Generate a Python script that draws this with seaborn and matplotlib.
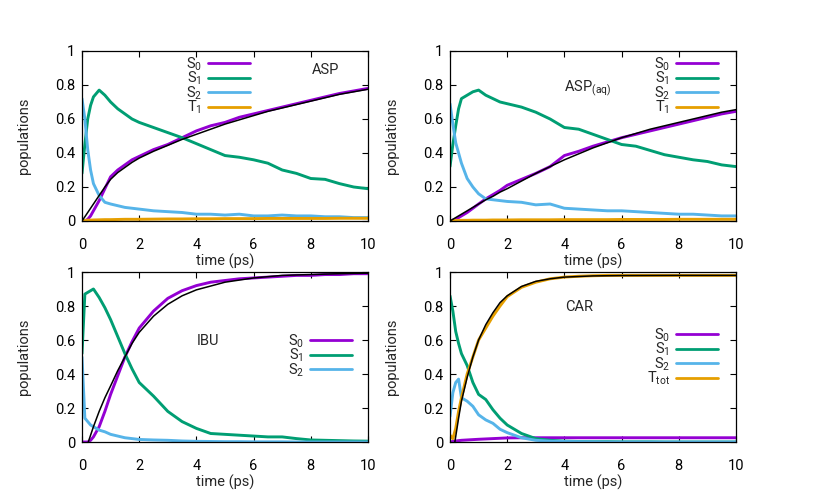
import numpy as np
import pandas as pd
import seaborn as sns
from matplotlib import pyplot as plt
from matplotlib.lines import Line2D

# time grid (ps) shared by the population curves
t = [0, 0.1, 0.2, 0.3, 0.4, 0.6, 0.8, 1.0, 1.25, 1.5, 1.75, 2, 2.5, 3, 3.5, 4,
     4.5, 5, 5.5, 6, 6.5, 7, 7.5, 8, 8.5, 9, 9.5, 10]

# ASP
asp_s0 = [0, 0, 0.01, 0.03, 0.06, 0.12, 0.19, 0.26, 0.30, 0.33, 0.36, 0.38, 0.42, 0.45,
          0.49, 0.53, 0.56, 0.58, 0.61, 0.63, 0.65, 0.67, 0.69, 0.71, 0.73, 0.75, 0.765, 0.78]
asp_s1 = [0.28, 0.45, 0.60, 0.68, 0.73, 0.77, 0.74, 0.70, 0.66, 0.63, 0.60, 0.58, 0.55, 0.52,
          0.49, 0.455, 0.42, 0.385, 0.375, 0.36, 0.34, 0.30, 0.28, 0.25, 0.245, 0.22, 0.20, 0.19]
asp_s2 = [0.72, 0.60, 0.42, 0.30, 0.22, 0.15, 0.11, 0.10, 0.09, 0.08, 0.075, 0.07, 0.06, 0.055,
          0.05, 0.04, 0.04, 0.035, 0.04, 0.03, 0.03, 0.035, 0.03, 0.03, 0.025, 0.025, 0.02, 0.02]
asp_t1 = [0, 0.003, 0.005, 0.005, 0.006, 0.007, 0.008, 0.008, 0.009, 0.01, 0.01, 0.01, 0.011, 0.012,
          0.012, 0.013, 0.013, 0.014, 0.014, 0.014, 0.015, 0.015, 0.015, 0.015, 0.015, 0.016, 0.016, 0.016]
asp_fit = [0, 0.025, 0.05, 0.075, 0.10, 0.15, 0.20, 0.245, 0.285, 0.315, 0.345, 0.37, 0.41, 0.445,
           0.48, 0.51, 0.54, 0.57, 0.595, 0.62, 0.645, 0.665, 0.685, 0.705, 0.725, 0.745, 0.76, 0.775]

# ASP(aq)
aq_s0 = [0, 0.005, 0.01, 0.02, 0.03, 0.05, 0.075, 0.10, 0.13, 0.155, 0.18, 0.21, 0.245, 0.28,
         0.32, 0.385, 0.41, 0.44, 0.465, 0.49, 0.51, 0.53, 0.55, 0.57, 0.59, 0.61, 0.63, 0.645]
aq_s1 = [0.32, 0.45, 0.56, 0.66, 0.72, 0.74, 0.76, 0.77, 0.74, 0.72, 0.70, 0.69, 0.67, 0.64,
         0.60, 0.55, 0.54, 0.51, 0.48, 0.45, 0.44, 0.415, 0.39, 0.375, 0.36, 0.35, 0.33, 0.32]
aq_s2 = [0.69, 0.57, 0.46, 0.40, 0.34, 0.25, 0.20, 0.16, 0.13, 0.125, 0.12, 0.115, 0.11, 0.095,
         0.10, 0.075, 0.07, 0.065, 0.06, 0.06, 0.055, 0.05, 0.045, 0.04, 0.04, 0.035, 0.03, 0.03]
aq_t1 = [0, 0.002, 0.003, 0.003, 0.004, 0.004, 0.005, 0.005, 0.005, 0.006, 0.006, 0.006, 0.007, 0.007,
         0.007, 0.008, 0.008, 0.008, 0.008, 0.009, 0.009, 0.009, 0.009, 0.01, 0.01, 0.01, 0.01, 0.01]
aq_fit = [0, 0.01, 0.02, 0.03, 0.04, 0.06, 0.08, 0.10, 0.125, 0.145, 0.17, 0.19, 0.235, 0.28,
          0.32, 0.36, 0.395, 0.43, 0.46, 0.49, 0.515, 0.54, 0.56, 0.58, 0.60, 0.62, 0.64, 0.655]

# IBU
ibu_s0 = [0, 0, 0, 0.01, 0.03, 0.09, 0.18, 0.28, 0.39, 0.50, 0.59, 0.67, 0.77, 0.845,
          0.89, 0.92, 0.94, 0.95, 0.96, 0.965, 0.97, 0.975, 0.98, 0.98, 0.985, 0.985, 0.99, 0.99]
ibu_s1 = [0.52, 0.87, 0.88, 0.89, 0.90, 0.85, 0.79, 0.72, 0.62, 0.52, 0.43, 0.35, 0.27, 0.18,
          0.12, 0.08, 0.05, 0.045, 0.04, 0.035, 0.03, 0.03, 0.02, 0.012, 0.01, 0.008, 0.006, 0.005]
ibu_s2 = [0.5, 0.14, 0.12, 0.10, 0.09, 0.07, 0.06, 0.045, 0.035, 0.025, 0.02, 0.015, 0.012, 0.01,
          0.006, 0.004, 0.003, 0.002, 0.002, 0.001, 0.001, 0.001, 0, 0, 0, 0, 0, 0]
ibu_fit_t = [0.22, 0.4, 0.6, 0.8, 1.0, 1.25, 1.5, 1.75, 2, 2.5, 3, 3.5, 4, 5, 6, 7, 8, 9, 10]
ibu_fit = [0, 0.09, 0.18, 0.26, 0.33, 0.42, 0.50, 0.58, 0.645, 0.74, 0.81, 0.86, 0.895,
           0.94, 0.965, 0.98, 0.985, 0.99, 0.993]

# CAR
car_s0 = [0, 0.003, 0.006, 0.008, 0.01, 0.012, 0.014, 0.016, 0.018, 0.02, 0.022, 0.024, 0.025, 0.025,
          0.025, 0.025, 0.025, 0.025, 0.025, 0.025, 0.025, 0.025, 0.025, 0.025, 0.025, 0.025, 0.025, 0.025]
car_s1 = [0.86, 0.77, 0.65, 0.58, 0.52, 0.45, 0.35, 0.28, 0.25, 0.19, 0.14, 0.10, 0.05, 0.02,
          0.01, 0.005, 0.003, 0.002, 0.002, 0.001, 0.001, 0.001, 0, 0, 0, 0, 0, 0]
car_s2 = [0.15, 0.29, 0.35, 0.37, 0.26, 0.24, 0.21, 0.16, 0.13, 0.11, 0.075, 0.055, 0.025, 0.01,
          0.005, 0.003, 0.002, 0.001, 0, 0, 0, 0, 0, 0, 0, 0, 0, 0]
car_tt = [0.04, 0.02, 0.08, 0.18, 0.26, 0.40, 0.50, 0.60, 0.67, 0.74, 0.80, 0.855, 0.91, 0.94,
          0.96, 0.97, 0.975, 0.978, 0.98, 0.98, 0.98, 0.98, 0.98, 0.98, 0.98, 0.98, 0.98, 0.98]
car_fit_t = [0.17, 0.3, 0.4, 0.6, 0.8, 1.0, 1.25, 1.5, 1.75, 2, 2.5, 3, 3.5, 4, 5, 6, 8, 10]
car_fit = [0, 0.14, 0.24, 0.38, 0.50, 0.60, 0.69, 0.76, 0.82, 0.86, 0.915, 0.945, 0.96,
           0.97, 0.977, 0.979, 0.98, 0.98]

colors = {"S0": "#9400d3", "S1": "#009e73", "S2": "#56b4e9", "T": "#e69f00"}

sns.set_theme(style="ticks", rc={
    "xtick.direction": "in", "ytick.direction": "in",
    "xtick.top": True, "ytick.right": True,
    "xtick.major.size": 4.5, "ytick.major.size": 4.5,
    "xtick.major.width": 0.8, "ytick.major.width": 0.8,
    "axes.linewidth": 0.9, "axes.edgecolor": "black",
})
plt.rcParams["font.family"] = ["Roboto", "DejaVu Sans"]
plt.rcParams["mathtext.default"] = "regular"
plt.rcParams["font.size"] = 10.5

W, H = 817, 491
fig = plt.figure(figsize=(W / 100, H / 100), dpi=100)

# panel boxes in pixels: left, top, right, bottom
boxes = [(82, 51, 368, 221), (450, 51, 736, 221), (82, 272, 368, 442), (450, 272, 736, 442)]

panels = [
    dict(series=[("S$_0$", asp_s0, "S0"), ("S$_1$", asp_s1, "S1"), ("S$_2$", asp_s2, "S2"),
                 ("T$_1$", asp_t1, "T")],
         fit_t=t, fit=asp_fit, name="ASP", name_xy=(0.804, 0.865),
         leg_xy=(0.587, 0.975)),
    dict(series=[("S$_0$", aq_s0, "S0"), ("S$_1$", aq_s1, "S1"), ("S$_2$", aq_s2, "S2"),
                 ("T$_1$", aq_t1, "T")],
         fit_t=t, fit=aq_fit, name="ASP$_{(aq)}$", name_xy=(0.40, 0.766),
         leg_xy=(0.937, 0.975)),
    dict(series=[("S$_0$", ibu_s0, "S0"), ("S$_1$", ibu_s1, "S1"), ("S$_2$", ibu_s2, "S2")],
         fit_t=ibu_fit_t, fit=ibu_fit, name="IBU", name_xy=(0.402, 0.571),
         leg_xy=(0.944, 0.645)),
    dict(series=[("S$_0$", car_s0, "S0"), ("S$_1$", car_s1, "S1"), ("S$_2$", car_s2, "S2"),
                 ("T$_{tot}$", car_tt, "T")],
         fit_t=car_fit_t, fit=car_fit, name="CAR", name_xy=(0.402, 0.77),
         leg_xy=(0.937, 0.68)),
]

for (l, tp, r, b), p in zip(boxes, panels):
    ax = fig.add_axes([l / W, 1 - b / H, (r - l) / W, (b - tp) / H])
    handles = []
    for label, vals, key in p["series"]:
        df = pd.DataFrame({"time": t, "pop": vals})
        sns.lineplot(data=df, x="time", y="pop", ax=ax, color=colors[key], lw=2.1,
                     estimator=None, sort=False)
        handles.append(Line2D([], [], color=colors[key], lw=2.0))
    fit_df = pd.DataFrame({"time": p["fit_t"], "pop": p["fit"]})
    sns.lineplot(data=fit_df, x="time", y="pop", ax=ax, color="black", lw=1.1,
                 estimator=None, sort=False)

    ax.set_xlim(0, 10)
    ax.set_ylim(0, 1)
    ax.set_xticks([0, 2, 4, 6, 8, 10])
    ax.set_yticks([0, 0.2, 0.4, 0.6, 0.8, 1])
    ax.set_yticklabels(["0", "0.2", "0.4", "0.6", "0.8", "1"])
    ax.tick_params(axis="x", pad=12, labelsize=10.5, colors="black")
    ax.tick_params(axis="y", pad=5, labelsize=10.5, colors="black")
    ax.set_xlabel("time (ps)", fontsize=10.5)
    ax.set_ylabel("populations", fontsize=10.5)
    ax.xaxis.set_label_coords(0.5, -0.195)
    ax.yaxis.set_label_coords(-0.178, 0.5)

    ax.text(p["name_xy"][0], p["name_xy"][1], p["name"], transform=ax.transAxes,
            fontsize=10.5, ha="left", va="baseline")
    ax.legend(handles, [s[0] for s in p["series"]], loc="upper right",
              bbox_to_anchor=p["leg_xy"], frameon=False, markerfirst=False,
              handlelength=2.9, handletextpad=0.4, labelspacing=-0.2,
              borderaxespad=0, borderpad=0, fontsize=10.5)

fig.savefig("out.png", dpi=100)
